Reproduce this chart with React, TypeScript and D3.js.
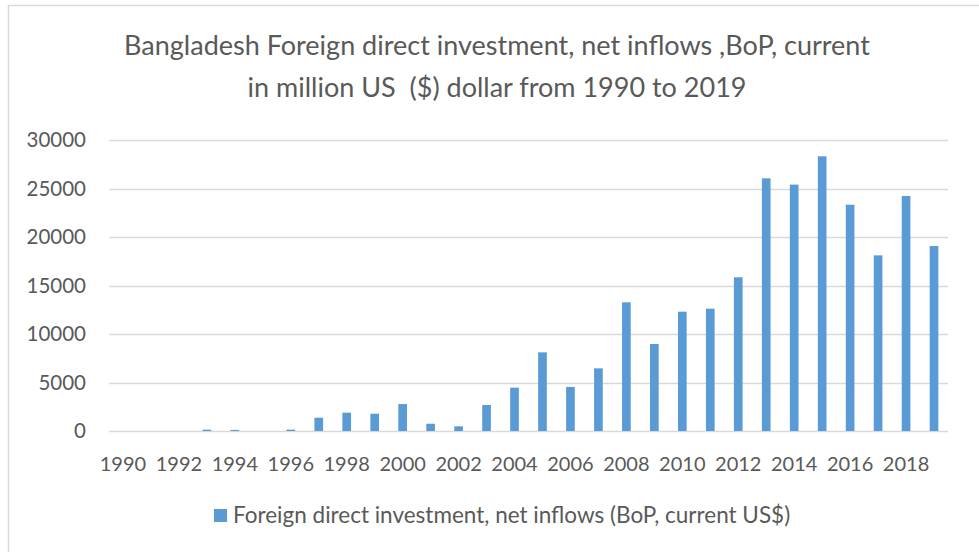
import React, { useRef, useEffect } from "react";
import * as d3 from "d3";

const years = [
  1990, 1991, 1992, 1993, 1994, 1995, 1996, 1997, 1998, 1999,
  2000, 2001, 2002, 2003, 2004, 2005, 2006, 2007, 2008, 2009,
  2010, 2011, 2012, 2013, 2014, 2015, 2016, 2017, 2018, 2019,
];
const fdiValues = [
  0, 0, 0, 140, 110, 0, 140, 1370, 1890, 1780,
  2780, 750, 480, 2680, 4470, 8110, 4540, 6460, 13270, 8970,
  12300, 12610, 15850, 26050, 25400, 28320, 23330, 18110, 24230, 19070,
];
const yTicks = [0, 5000, 10000, 15000, 20000, 25000, 30000];
const titleLines = [
  "Bangladesh Foreign direct investment, net inflows ,BoP, current",
  "in million US  ($) dollar from 1990 to 2019",
];
const legendLabel = "Foreign direct investment, net inflows (BoP, current US$)";

const FONT = "Lato, 'Open Sans', sans-serif";
const TEXT = "#595959";
const BAR = "#5b9bd5";

export default function App() {
  const ref = useRef<SVGSVGElement>(null);

  useEffect(() => {
    const width = 979, height = 552;
    const m = { left: 109, right: 31, top: 140, bottom: 121 };

    const svg = d3.select(ref.current);
    svg.selectAll("*").remove();
    svg.attr("width", width).attr("height", height);

    svg.append("rect")
      .attr("width", width).attr("height", height).attr("fill", "#fff");
    // chart frame (only top and left edges visible)
    svg.append("rect")
      .attr("x", 8.5).attr("y", 5.5)
      .attr("width", 1200).attr("height", 800)
      .attr("fill", "none").attr("stroke", "#d9d9d9").attr("stroke-width", 1.5);

    // title
    svg.append("g").selectAll("text")
      .data(titleLines)
      .enter().append("text")
      .attr("x", 497)
      .attr("y", (d, i) => 55 + i * 42)
      .attr("text-anchor", "middle")
      .style("font-family", FONT)
      .style("font-size", "27px")
      .style("fill", TEXT)
      .style("white-space", "pre")
      .text(d => d);

    const x = d3.scaleBand<number>()
      .domain(years)
      .range([m.left, width - m.right])
      .paddingInner(0.69)
      .paddingOuter(0.345);

    const y = d3.scaleLinear()
      .domain([0, 30000])
      .range([height - m.bottom, m.top]);

    // gridlines
    svg.append("g").selectAll("line")
      .data(yTicks)
      .enter().append("line")
      .attr("x1", m.left).attr("x2", width - m.right)
      .attr("y1", d => Math.round(y(d)) + 0.5)
      .attr("y2", d => Math.round(y(d)) + 0.5)
      .attr("stroke", "#d9d9d9")
      .attr("stroke-width", 1.5);

    // y labels
    svg.append("g").selectAll("text")
      .data(yTicks)
      .enter().append("text")
      .attr("x", 86)
      .attr("y", d => y(d) + 7)
      .attr("text-anchor", "end")
      .style("font-family", FONT)
      .style("font-size", "20.5px")
      .style("fill", TEXT)
      .text(d => d);

    // bars
    svg.append("g").selectAll("rect")
      .data(fdiValues)
      .enter().append("rect")
      .attr("x", (d, i) => x(years[i])!)
      .attr("width", x.bandwidth())
      .attr("y", d => y(d))
      .attr("height", d => y(0) - y(d))
      .attr("fill", BAR);

    // x labels, every other year
    svg.append("g").selectAll("text")
      .data(years.filter((d, i) => i % 2 === 0))
      .enter().append("text")
      .attr("x", d => x(d)! + x.bandwidth() / 2)
      .attr("y", 471)
      .attr("text-anchor", "middle")
      .style("font-family", FONT)
      .style("font-size", "20px")
      .style("fill", TEXT)
      .text(d => d);

    // legend
    const lg = svg.append("g").attr("transform", "translate(214,509)");
    lg.append("rect").attr("width", 13).attr("height", 13).attr("fill", BAR);
    lg.append("text")
      .attr("x", 19).attr("y", 14)
      .style("font-family", FONT)
      .style("font-size", "22.5px")
      .style("fill", TEXT)
      .text(legendLabel);
  }, []);

  return (
    <div style={{ position: "fixed", left: 0, top: 0 }}>
      <svg ref={ref} style={{ display: "block" }}></svg>
    </div>
  );
}
